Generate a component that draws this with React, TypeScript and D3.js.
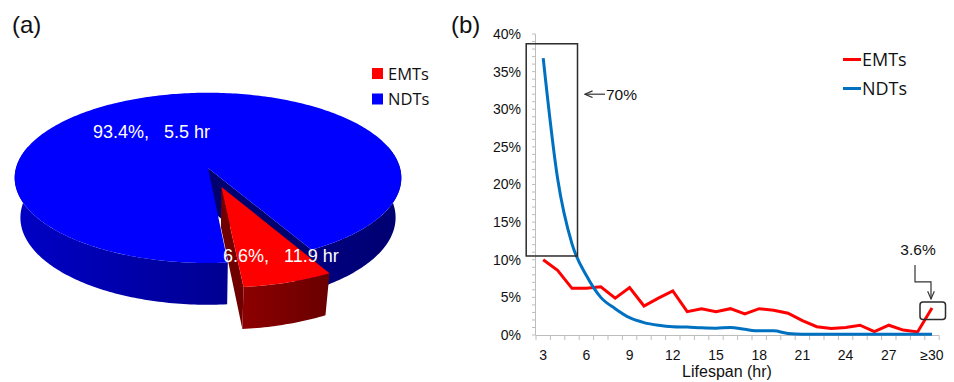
import React from "react";
import * as d3 from "d3";

// ---- Panel (a): share of trips and mean lifespan ----
const pieSeries = ["EMTs", "NDTs"];
const pieShare = [6.6, 93.4];
const pieMeanHours = [11.9, 5.5];

// ---- Panel (b): lifespan distribution ----
const lifespanBins = [
  "3", "4", "5", "6", "7", "8", "9", "10", "11", "12", "13", "14", "15", "16",
  "17", "18", "19", "20", "21", "22", "23", "24", "25", "26", "27", "28", "29", "≥30",
];
const tickBins = ["3", "6", "9", "12", "15", "18", "21", "24", "27", "≥30"];
const emtShare = [
  10.0, 8.6, 6.2, 6.2, 6.4, 4.9, 6.3, 3.85, 4.9, 5.85, 3.1, 3.5, 3.1, 3.5,
  2.8, 3.5, 3.3, 2.9, 1.9, 1.1, 0.85, 1.0, 1.3, 0.45, 1.3, 0.65, 0.4, 3.6,
];
const ndtShare = [
  36.8, 20.8, 12.1, 7.9, 5.0, 3.5, 2.3, 1.65, 1.3, 1.1, 1.05, 0.95, 0.9, 1.0,
  0.75, 0.55, 0.55, 0.2, 0.1, 0.1, 0.1, 0.1, 0.1, 0.1, 0.1, 0.1, 0.1, 0.1,
];
const yTicks = [0, 5, 10, 15, 20, 25, 30, 35, 40];
const yMinorTicks = d3.range(0, 41, 1);
const shortCallout = "70%";

const W = 954;
const H = 382;
const ARIAL = "'Liberation Sans', Arial, Helvetica, sans-serif";
const SANS = "'Open Sans', 'DejaVu Sans', sans-serif";

// ---- 3D pie projection ----
const PIE = { cx: 208, cy: 168, rx: 192, ry: 84, depth: 41, k: 0.116, m: 0.03 };
const SLICE_EDGE = 84.76; // angle (deg, clockwise from 3 o'clock) where the EMT slice ends
const EXPLODE = 0.23;
const deg = Math.PI / 180;

type Pt = [number, number];

// u: right, v: toward viewer (unit radius), t: 0 = top face, 1 = bottom face
function project(u: number, v: number, t: number): Pt {
  const p = 1 / (1 - PIE.k * v + PIE.m * t);
  return [PIE.cx + PIE.rx * u * p, PIE.cy + (PIE.ry * v + PIE.depth * t) * p];
}

function rimPts(a0: number, a1: number, t: number, off: Pt): Pt[] {
  const n = Math.max(1, Math.ceil(Math.abs(a1 - a0)));
  const pts: Pt[] = [];
  for (let i = 0; i <= n; i++) {
    const a = (a0 + ((a1 - a0) * i) / n) * deg;
    pts.push(project(off[0] + Math.cos(a), off[1] + Math.sin(a), t));
  }
  return pts;
}

const poly = (pts: Pt[]) =>
  "M" + pts.map((p) => p[0].toFixed(2) + "," + p[1].toFixed(2)).join("L") + "Z";

const wallPath = (a0: number, a1: number, off: Pt) =>
  poly([...rimPts(a0, a1, 0, off), ...rimPts(a1, a0, 1, off)]);

const radialPath = (a: number, off: Pt) =>
  poly([project(off[0], off[1], 0), ...rimPts(a, a, 0, off), ...rimPts(a, a, 1, off), project(off[0], off[1], 1)]);

const topPath = (a0: number, a1: number, off: Pt) =>
  poly([project(off[0], off[1], 0), ...rimPts(a0, a1, 0, off)]);

function PiePanel() {
  const emtSpan = (pieShare[0] / 100) * 360;
  const emtStart = SLICE_EDGE - emtSpan;
  const emtEnd = SLICE_EDGE;
  const ndtStart = emtEnd;
  const ndtEnd = emtStart + 360;
  const mid = ((emtStart + emtEnd) / 2) * deg;
  const emtOff: Pt = [EXPLODE * Math.cos(mid), EXPLODE * Math.sin(mid)];
  const none: Pt = [0, 0];

  // only the front half of the outer wall can be seen
  const ndtWalls = [
    [ndtStart, 195],
    [345, ndtEnd],
  ];

  return (
    <g>
      <defs>
        <linearGradient id="ndtWall" gradientUnits="userSpaceOnUse" x1={15} x2={400} y1={0} y2={0}>
          <stop offset="0" stopColor="#0000c6" />
          <stop offset="0.55" stopColor="#000092" />
          <stop offset="1" stopColor="#000070" />
        </linearGradient>
        <linearGradient id="emtWall" gradientUnits="userSpaceOnUse" x1={240} x2={335} y1={0} y2={0}>
          <stop offset="0" stopColor="#8e0000" />
          <stop offset="1" stopColor="#660000" />
        </linearGradient>
      </defs>

      {/* NDT slice */}
      {ndtWalls.map(([a0, a1], i) => (
        <path key={i} d={wallPath(a0, a1, none)} fill="url(#ndtWall)" />
      ))}
      <path d={radialPath(ndtEnd, none)} fill="#00006e" />
      <path d={topPath(ndtStart, ndtEnd, none)} fill="#0000ff" />

      {/* EMT slice, pulled out */}
      <path d={radialPath(emtEnd, emtOff)} fill="#700000" />
      <path d={wallPath(emtStart, emtEnd, emtOff)} fill="url(#emtWall)" />
      <path d={topPath(emtStart, emtEnd, emtOff)} fill="#ff0000" />

      {/* slice labels */}
      <text x={93} y={138} fill="#fff" fontFamily={ARIAL} fontSize={18} style={{ whiteSpace: "pre" }}>
        {`${pieShare[1]}%,   ${pieMeanHours[1]} hr`}
      </text>
      <text x={223} y={262} fill="#fff" fontFamily={ARIAL} fontSize={18} style={{ whiteSpace: "pre" }}>
        {`${pieShare[0]}%,   ${pieMeanHours[0]} hr`}
      </text>

      {/* legend */}
      {pieSeries.map((s, i) => (
        <g key={s} transform={`translate(372,${68 + i * 25.5})`}>
          <rect width={11} height={11} fill={i === 0 ? "#ff0000" : "#0000ff"} />
          <text x={16} y={11.5} fontFamily={SANS} fontSize={16.5} fill="#111">
            {s}
          </text>
        </g>
      ))}

      <text x={12} y={33} fontFamily={ARIAL} fontSize={24} fill="#111">
        (a)
      </text>
    </g>
  );
}

function LinePanel() {
  const x = d3.scaleBand<string>().domain(lifespanBins).range([536, 939.2]).padding(0);
  const cx = (b: string) => (x(b) as number) + x.bandwidth() / 2;
  const y = d3.scaleLinear().domain([0, 40]).range([335, 34]);

  const emtLine = d3
    .line<number>()
    .x((_, i) => cx(lifespanBins[i]))
    .y((d) => y(d))
    .curve(d3.curveLinear);
  const ndtLine = d3
    .line<number>()
    .x((_, i) => cx(lifespanBins[i]))
    .y((d) => y(d))
    .curve(d3.curveMonotoneX);

  const axisColor = "#bdbdbd";
  const boundaries = [...lifespanBins.map((b) => x(b) as number), 939.2];

  const lastBin = lifespanBins[lifespanBins.length - 1];
  const lastEmt = emtShare[emtShare.length - 1];
  const bx = cx(lastBin);

  // peak box around the first three bins
  const boxX0 = cx("3") - 17;
  const boxX1 = cx("5") + 5.5;
  const boxY0 = y(38.7);
  const boxY1 = y(10.5);
  const calloutY = y(32);

  return (
    <g>
      <defs>
        <marker id="arrowHead" viewBox="0 0 10 10" refX="9" refY="5" markerWidth="7" markerHeight="7" orient="auto-start-reverse">
          <path d="M0,1 L9,5 L0,9" fill="none" stroke="#333" strokeWidth={1.4} />
        </marker>
      </defs>

      {/* y axis */}
      <line x1={535.5} x2={535.5} y1={y(40)} y2={y(0)} stroke={axisColor} strokeWidth={1} />
      {yMinorTicks.map((t) => (
        <line key={t} x1={532} x2={535.5} y1={y(t)} y2={y(t)} stroke={axisColor} strokeWidth={1} />
      ))}
      {yTicks.map((t) => (
        <text key={t} x={521} y={y(t)} dy="0.35em" textAnchor="end" fontFamily={ARIAL} fontSize={14} fill="#111">
          {`${t}%`}
        </text>
      ))}

      {/* x axis */}
      <line x1={535.5} x2={939.2} y1={335.5} y2={335.5} stroke={axisColor} strokeWidth={1} />
      {boundaries.map((bx0, i) => (
        <line key={i} x1={bx0} x2={bx0} y1={335.5} y2={340} stroke={axisColor} strokeWidth={1} />
      ))}
      {tickBins.map((b) => (
        <text key={b} x={cx(b)} y={360} textAnchor="middle" fontFamily={ARIAL} fontSize={14} fill="#111">
          {b}
        </text>
      ))}
      <text x={727} y={377} textAnchor="middle" fontFamily={ARIAL} fontSize={16} fill="#111">
        Lifespan (hr)
      </text>

      {/* series */}
      <path d={emtLine(emtShare) || ""} fill="none" stroke="#ff0000" strokeWidth={3} strokeLinejoin="miter" />
      <path d={ndtLine(ndtShare) || ""} fill="none" stroke="#0070c0" strokeWidth={3} strokeLinejoin="round" />

      {/* annotations */}
      <rect x={boxX0} y={boxY0} width={boxX1 - boxX0} height={boxY1 - boxY0} fill="none" stroke="#2b2b2b" strokeWidth={1.5} />
      <line x1={605} x2={585} y1={calloutY} y2={calloutY} stroke="#333" strokeWidth={1.2} markerEnd="url(#arrowHead)" />
      <text x={606} y={calloutY + 5.5} fontFamily={ARIAL} fontSize={15.5} fill="#111">
        {shortCallout}
      </text>

      <rect x={bx - 12} y={y(lastEmt) - 6} width={25.5} height={17.5} rx={3} fill="none" stroke="#2b2b2b" strokeWidth={1.5} />
      <path
        d={`M${bx - 17},${y(lastEmt) - 43} V${y(lastEmt) - 26} H${bx - 1} V${y(lastEmt) - 9}`}
        fill="none"
        stroke="#333"
        strokeWidth={1.2}
        markerEnd="url(#arrowHead)"
      />
      <text x={bx - 14} y={255} textAnchor="middle" fontFamily={ARIAL} fontSize={15.5} fill="#111">
        {`${lastEmt}%`}
      </text>

      {/* legend */}
      {pieSeries.map((s, i) => (
        <g key={s} transform={`translate(843,${59.5 + i * 29})`}>
          <line x1={0} x2={18} y1={0} y2={0} stroke={i === 0 ? "#ff0000" : "#0070c0"} strokeWidth={3} />
          <text x={19} y={6.5} fontFamily={SANS} fontSize={18} fill="#111">
            {s}
          </text>
        </g>
      ))}

      <text x={451} y={33} fontFamily={ARIAL} fontSize={24} fill="#111">
        (b)
      </text>
    </g>
  );
}

export default function App() {
  return (
    <svg
      width={W}
      height={H}
      viewBox={`0 0 ${W} ${H}`}
      style={{ position: "absolute", left: 0, top: 0, background: "#fff" }}
    >
      <rect width={W} height={H} fill="#fff" />
      <PiePanel />
      <LinePanel />
    </svg>
  );
}
